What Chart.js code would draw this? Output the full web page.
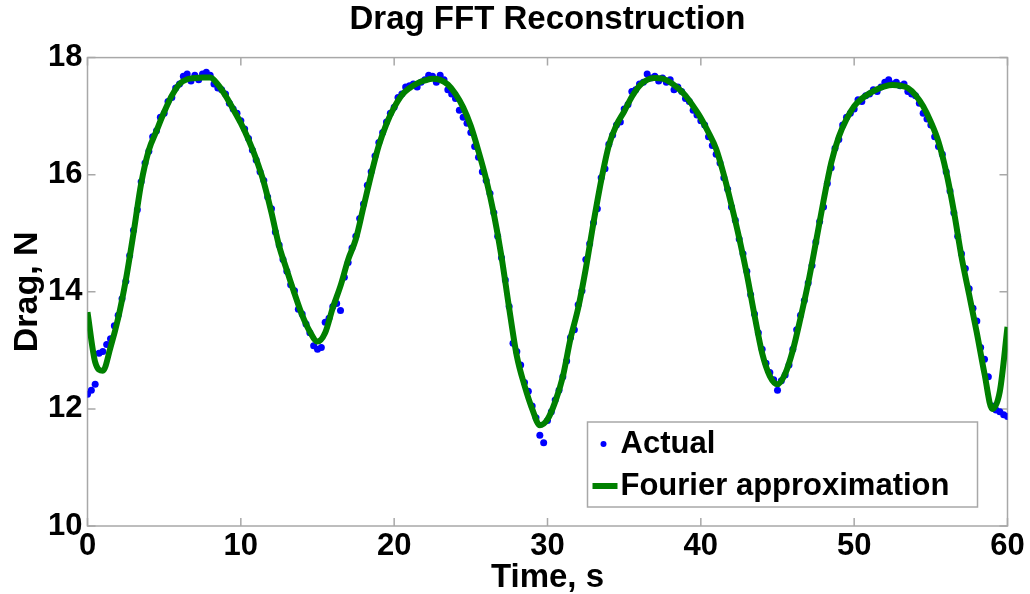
<!DOCTYPE html>
<html>
<head>
<meta charset="utf-8">
<title>Drag FFT Reconstruction</title>
<script src="https://cdn.jsdelivr.net/npm/chart.js@4.4.0/dist/chart.umd.min.js"></script>
<style>
  html, body { margin: 0; padding: 0; background: #fff; }
  #wrap { width: 1030px; height: 594px; }
</style>
</head>
<body>
<div id="wrap"><canvas id="dragChart" width="1030" height="594"></canvas></div>
<script>
const titleText = 'Drag FFT Reconstruction';
const xLabel = 'Time, s';
const yLabel = 'Drag, N';
const seriesNames = ['Actual', 'Fourier approximation'];
const xTicks = [0, 10, 20, 30, 40, 50, 60];
const yTicks = [10, 12, 14, 16, 18];

// measured drag, one sample every 0.25 s
const actualStep = 0.25;
const actualDrag = [
  12.25, 12.32, 12.42, 12.95,
  12.98, 13.10, 13.20, 13.42,
  13.60, 13.88, 14.18, 14.62,
  15.05, 15.40, 15.88, 16.20,
  16.40, 16.65, 16.75, 16.98,
  17.05, 17.25, 17.32, 17.48,
  17.55, 17.68, 17.72, 17.60,
  17.70, 17.62, 17.72, 17.75,
  17.70, 17.55, 17.48, 17.45,
  17.38, 17.22, 17.12, 17.05,
  16.92, 16.78, 16.62, 16.42,
  16.25, 16.05, 15.90, 15.62,
  15.42, 15.02, 14.80, 14.55,
  14.35, 14.12, 14.02, 13.70,
  13.62, 13.45, 13.30, 13.08,
  13.02, 13.05, 13.48, 13.55,
  13.75, 13.80, 13.68, 14.25,
  14.50, 14.75, 14.95, 15.25,
  15.50, 15.82, 16.05, 16.32,
  16.55, 16.72, 16.90, 17.05,
  17.15, 17.32, 17.38, 17.50,
  17.52, 17.55, 17.50, 17.58,
  17.62, 17.70, 17.68, 17.58,
  17.70, 17.62, 17.45, 17.38,
  17.30, 17.10, 16.98, 16.88,
  16.72, 16.48, 16.30, 16.05,
  15.90, 15.68, 15.35, 14.95,
  14.58, 14.20, 13.75, 13.12,
  12.98, 12.75, 12.45, 12.30,
  12.05, 11.85, 11.55, 11.42,
  11.80, 11.95, 12.15, 12.32,
  12.55, 12.82, 13.22, 13.35,
  13.78, 14.02, 14.55, 14.82,
  15.18, 15.42, 15.95, 16.10,
  16.52, 16.68, 16.85, 16.90,
  17.12, 17.20, 17.42, 17.45,
  17.55, 17.58, 17.72, 17.65,
  17.68, 17.60, 17.65, 17.58,
  17.62, 17.45, 17.50, 17.42,
  17.30, 17.25, 17.10, 17.02,
  16.92, 16.85, 16.65, 16.50,
  16.35, 16.20, 15.95, 15.75,
  15.45, 15.22, 14.90, 14.65,
  14.35, 13.95, 13.62, 13.30,
  13.02, 12.78, 12.62, 12.50,
  12.32, 12.48, 12.58, 12.75,
  13.02, 13.35, 13.60, 13.85,
  14.15, 14.45, 14.85, 15.20,
  15.45, 15.85, 16.12, 16.45,
  16.60, 16.85, 16.98, 17.05,
  17.12, 17.28, 17.25, 17.35,
  17.38, 17.45, 17.42, 17.50,
  17.58, 17.62, 17.55, 17.58,
  17.52, 17.55, 17.42, 17.38,
  17.35, 17.22, 17.05, 16.95,
  16.85, 16.65, 16.48, 16.35,
  16.05, 15.72, 15.35, 14.95,
  14.65, 14.40, 14.05, 13.72,
  13.50, 13.05, 12.85, 12.55,
  12.05, 11.98, 11.95, 11.90,
  11.87
];

// fourier reconstruction, read every 0.5 s
const fourierStep = 0.5;
const fourierDrag = [
  13.65, 12.80, 12.65, 13.05, 13.55, 14.20, 15.00, 15.85, 16.42, 16.75,
  17.07, 17.35, 17.55, 17.63, 17.65, 17.66, 17.66, 17.54, 17.35, 17.12,
  16.88, 16.60, 16.27, 15.87, 15.35, 14.78, 14.37, 13.97, 13.60, 13.32,
  13.15, 13.30, 13.73, 14.10, 14.55, 14.90, 15.45, 16.00, 16.50, 16.87,
  17.15, 17.36, 17.48, 17.56, 17.61, 17.64, 17.62, 17.54, 17.38, 17.15,
  16.83, 16.40, 15.92, 15.33, 14.60, 13.72, 12.90, 12.40, 12.00, 11.72,
  11.82, 12.12, 12.55, 13.20, 13.72, 14.40, 15.18, 15.90, 16.50, 16.85,
  17.08, 17.33, 17.52, 17.62, 17.65, 17.64, 17.58, 17.48, 17.35, 17.17,
  16.97, 16.72, 16.44, 16.00, 15.48, 14.92, 14.30, 13.60, 12.95, 12.56,
  12.42, 12.60, 13.00, 13.55, 14.15, 14.84, 15.55, 16.20, 16.65, 16.95,
  17.17, 17.30, 17.39, 17.46, 17.51, 17.53, 17.52, 17.48, 17.36, 17.17,
  16.90, 16.56, 16.05, 15.38, 14.60, 13.95, 13.30, 12.60, 12.00, 12.30,
  13.40
];

const blue = '#0000ff';
const green = '#008000';
const boxGray = '#a8a8a8';
const fontFamily = "'Liberation Sans', Arial, Helvetica, sans-serif";

const actualPoints = actualDrag.map((v, i) => ({ x: i * actualStep, y: v }));
const fourierPoints = fourierDrag.map((v, i) => ({ x: i * fourierStep, y: v }));

// matlab style box with inward ticks on all four sides
const boxPlugin = {
  id: 'matlabBox',
  beforeDatasetsDraw(chart) {
    const { ctx, chartArea: a, scales: { x, y } } = chart;
    const len = 8;
    ctx.save();
    ctx.strokeStyle = boxGray;
    ctx.lineWidth = 1.5;
    ctx.strokeRect(a.left, a.top, a.right - a.left, a.bottom - a.top);
    ctx.beginPath();
    xTicks.forEach(v => {
      const px = x.getPixelForValue(v);
      ctx.moveTo(px, a.bottom);
      ctx.lineTo(px, a.bottom - len);
      ctx.moveTo(px, a.top);
      ctx.lineTo(px, a.top + len);
    });
    yTicks.forEach(v => {
      const py = y.getPixelForValue(v);
      ctx.moveTo(a.left, py);
      ctx.lineTo(a.left + len, py);
      ctx.moveTo(a.right, py);
      ctx.lineTo(a.right - len, py);
    });
    ctx.stroke();
    ctx.restore();
  }
};

// legend box sitting inside the axes, lower right
const legendPlugin = {
  id: 'insideLegend',
  afterDraw(chart) {
    const { ctx, chartArea: a } = chart;
    const right = a.right - 30;
    const bottom = a.bottom - 19;
    const w = 390, h = 85;
    const left = right - w, top = bottom - h;
    ctx.save();
    ctx.fillStyle = '#ffffff';
    ctx.fillRect(left, top, w, h);
    ctx.strokeStyle = boxGray;
    ctx.lineWidth = 1.5;
    ctx.strokeRect(left, top, w, h);

    const row1 = top + 22, row2 = top + 64;
    ctx.fillStyle = blue;
    ctx.beginPath();
    ctx.arc(left + 16, row1, 3, 0, Math.PI * 2);
    ctx.fill();

    ctx.strokeStyle = green;
    ctx.lineWidth = 6;
    ctx.beginPath();
    ctx.moveTo(left + 5, row2);
    ctx.lineTo(left + 30, row2);
    ctx.stroke();

    ctx.fillStyle = '#000';
    ctx.font = 'bold 31px ' + fontFamily;
    ctx.textBaseline = 'middle';
    ctx.textAlign = 'left';
    ctx.fillText(seriesNames[0], left + 33, row1);
    ctx.fillText(seriesNames[1], left + 33, row2);
    ctx.restore();
  }
};

new Chart(document.getElementById('dragChart'), {
  type: 'scatter',
  data: {
    datasets: [{
      label: seriesNames[0],
      data: actualPoints,
      showLine: false,
      pointRadius: 3.5,
      pointBorderWidth: 0,
      pointBackgroundColor: blue,
      backgroundColor: blue,
      order: 2
    }, {
      label: seriesNames[1],
      data: fourierPoints,
      showLine: true,
      borderColor: green,
      borderWidth: 6,
      pointRadius: 0,
      cubicInterpolationMode: 'monotone',
      fill: false,
      order: 1
    }]
  },
  options: {
    responsive: false,
    animation: false,
    devicePixelRatio: 1,
    layout: { padding: { top: 0, left: 0, right: 22.5, bottom: 0 } },
    plugins: {
      legend: { display: false },
      tooltip: { enabled: false },
      title: {
        display: true,
        fullSize: false,
        text: titleText,
        color: '#000',
        font: { family: fontFamily, size: 33, weight: 'bold', lineHeight: 1.2 },
        padding: { top: 0, bottom: 18 }
      }
    },
    scales: {
      x: {
        type: 'linear',
        min: 0,
        max: 60,
        afterBuildTicks: s => { s.ticks = xTicks.map(v => ({ value: v })); },
        afterFit: s => { s.height = 68; },
        grid: { display: false, drawTicks: false },
        border: { display: false },
        ticks: {
          color: '#000',
          padding: 2,
          maxRotation: 0,
          font: { family: fontFamily, size: 31, weight: 'bold' }
        },
        title: {
          display: true,
          text: xLabel,
          color: '#000',
          font: { family: fontFamily, size: 33, weight: 'bold', lineHeight: 1 },
          padding: { top: 0, bottom: 0 }
        }
      },
      y: {
        type: 'linear',
        min: 10,
        max: 18,
        afterBuildTicks: s => { s.ticks = yTicks.map(v => ({ value: v })); },
        afterFit: s => { s.width = 87.5; },
        grid: { display: false, drawTicks: false },
        border: { display: false },
        ticks: {
          color: '#000',
          padding: 5,
          font: { family: fontFamily, size: 31, weight: 'bold' }
        },
        title: {
          display: true,
          text: yLabel,
          color: '#000',
          font: { family: fontFamily, size: 34, weight: 'bold', lineHeight: 1.2 },
          padding: { top: 7, bottom: 0 }
        }
      }
    }
  },
  plugins: [boxPlugin, legendPlugin]
});
</script>
</body>
</html>
